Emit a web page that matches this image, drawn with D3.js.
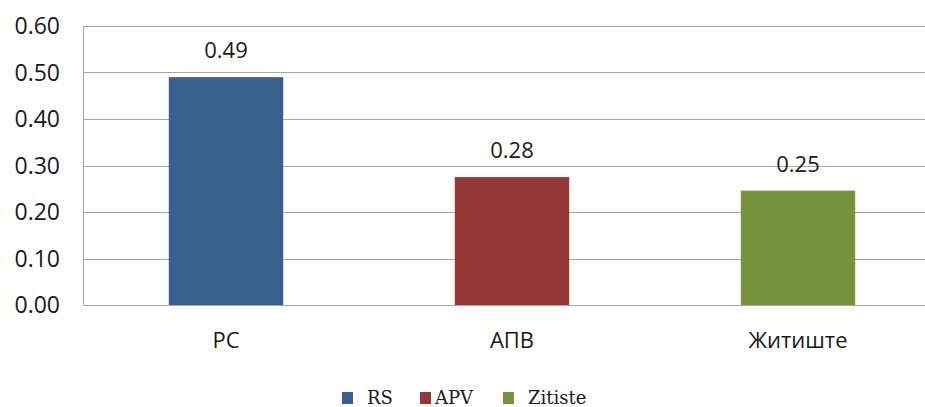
<!DOCTYPE html>
<html><head><meta charset="utf-8">
<script src="https://cdn.jsdelivr.net/npm/d3@7"></script>
<style>body{margin:0;background:#fff;} svg{display:block;}</style>
</head><body>
<svg id="chart" width="925" height="407"></svg>
<script>
const categories = ["РС", "АПВ", "Житиште"];
const values = [0.49, 0.275, 0.246];
const valueLabels = ["0.49", "0.28", "0.25"];
const legendNames = ["RS", "APV", "Zitiste"];
const colors = ["#3a5f8f", "#953735", "#77933c"];
const yTicks = [0, 0.1, 0.2, 0.3, 0.4, 0.5, 0.6];

const svg = d3.select("#chart");
const plotLeft = 83, plotTop = 26, plotBottom = 305, plotRight = 941;
const x = d3.scaleBand().domain(categories).range([plotLeft, plotRight]).paddingInner(0.6).paddingOuter(0.3);
const y = d3.scaleLinear().domain([0, 0.6]).range([plotBottom, plotTop]);
const sans = "'Open Sans', 'Noto Sans', sans-serif";

// gridlines
svg.append("g").selectAll("line").data(yTicks).join("line")
  .attr("x1", plotLeft).attr("x2", plotRight)
  .attr("y1", d => Math.round(y(d)) + 0.5).attr("y2", d => Math.round(y(d)) + 0.5)
  .attr("stroke", "#a6a6a6").attr("stroke-width", 1);
// left axis line
svg.append("line").attr("x1", plotLeft + 0.5).attr("x2", plotLeft + 0.5)
  .attr("y1", plotTop).attr("y2", plotBottom).attr("stroke", "#a6a6a6");

// y tick labels
svg.append("g").selectAll("text").data(yTicks).join("text")
  .attr("x", 60).attr("y", d => y(d)).attr("dy", "0.36em")
  .attr("text-anchor", "end")
  .attr("font-family", sans).attr("font-size", 23)
  .attr("fill", "#1a1a1a")
  .text(d => d3.format(".2f")(d));

// bars
svg.append("g").selectAll("rect").data(values).join("rect")
  .attr("x", (d, i) => x(categories[i])).attr("width", x.bandwidth())
  .attr("y", d => y(d)).attr("height", d => y(0) - y(d))
  .attr("fill", (d, i) => colors[i]);

// value labels
svg.append("g").selectAll("text").data(values).join("text")
  .attr("x", (d, i) => x(categories[i]) + x.bandwidth() / 2)
  .attr("y", d => y(d) - 19)
  .attr("text-anchor", "middle")
  .attr("font-family", sans).attr("font-size", 22)
  .attr("fill", "#1a1a1a")
  .text((d, i) => valueLabels[i]);

// category labels
svg.append("g").selectAll("text").data(categories).join("text")
  .attr("x", d => x(d) + x.bandwidth() / 2)
  .attr("y", 348)
  .attr("text-anchor", "middle")
  .attr("font-family", sans).attr("font-size", 22)
  .attr("fill", "#1a1a1a")
  .text(d => d);

// legend
const legendSquareX = [342, 420, 503];
const legendTextX = [367, 435, 528];
const lg = svg.append("g").selectAll("g").data(legendNames).join("g");
lg.append("rect").attr("x", (d, i) => legendSquareX[i]).attr("y", 392)
  .attr("width", 11).attr("height", 12).attr("fill", (d, i) => colors[i]);
lg.append("text").attr("x", (d, i) => legendTextX[i]).attr("y", 404)
  .attr("font-family", "'DejaVu Serif', 'Liberation Serif', serif").attr("font-size", 18)
  .attr("fill", "#1a1a1a")
  .text(d => d);
</script>
</body></html>
